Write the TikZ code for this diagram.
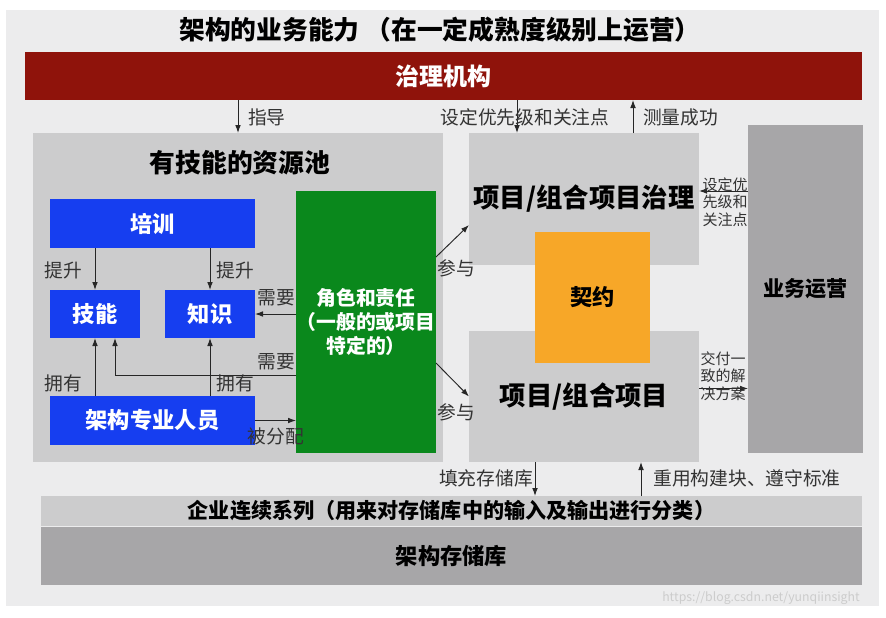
\documentclass[tikz,border=0pt]{standalone}
\usepackage{fontspec}
\setmainfont{Noto Sans CJK SC}
\usepackage{xcolor}
\usepackage{tikz}
\usetikzlibrary{arrows.meta}

\definecolor{panelgray}{RGB}{236,236,237}
\definecolor{boxgray}{RGB}{204,204,205}
\definecolor{darkgray}{RGB}{167,166,168}
\definecolor{govred}{RGB}{143,19,11}
\definecolor{skillblue}{RGB}{22,62,240}
\definecolor{rolegreen}{RGB}{10,136,28}
\definecolor{dealorange}{RGB}{247,167,40}

\tikzset{wh/.style 2 args={minimum width=#1*0.3mm, minimum height=#2*0.3mm}}

\begin{document}
\begin{tikzpicture}[x=0.3mm, y=-0.3mm,
	box/.style={inner sep=0pt, outer sep=0pt, align=center},
	bluebox/.style={box, fill=skillblue, text=white, font=\bfseries\fontsize{19}{22}\selectfont},
	lbl/.style={inner sep=0pt, text=black!80, font=\fontsize{16}{18}\selectfont},
	sidelbl/.style={inner sep=0pt, align=left, text=black!80, font=\fontsize{12.8}{15}\selectfont},
	arr/.style={-{Latex[length=2.4mm, width=1.7mm]}, line width=0.8pt, black!85}]
	% Canvas and frames:
	\useasboundingbox (0,0) rectangle (886,617);
	\node[box, fill=panelgray, wh={873}{596}](bg) at (442.5,308){};
	\node[box, font=\bfseries\fontsize{22}{26}\selectfont](title) at (440,30){架构的业务能力\ （在一定成熟度级别上运营）};
	\node[box, fill=govred, text=white, font=\bfseries\fontsize{20.5}{24}\selectfont, wh={837}{48}](gov) at (443.5,76){治理机构};
	\node[box, fill=boxgray, wh={410}{329}](pool) at (238,297.5){};
	\node[box, font=\bfseries\fontsize{22}{26}\selectfont](pooltitle) at (240,163){有技能的资源池};
	\node[bluebox, wh={205}{49}](train) at (152.5,223.5){培训};
	\node[bluebox, wh={90}{48}](skill) at (95,314){技能};
	\node[bluebox, wh={90}{48}](know) at (210,314){知识};
	\node[bluebox, wh={205}{49}](arch) at (152.5,420.5){架构专业人员};
	\node[box, fill=rolegreen, text=white, font=\bfseries\fontsize{16.9}{20.5}\selectfont, wh={140}{262}](role) at (366,322){角色和责任\\（一般的或项目\\特定的）};
	\node[box, fill=boxgray, font=\bfseries\fontsize{22.5}{26}\selectfont, wh={230}{132}](pgov) at (584,199){项目/组合项目治理};
	\node[box, fill=boxgray, font=\bfseries\fontsize{22.5}{26}\selectfont, wh={230}{131}](proj) at (584,396.5){项目/组合项目};
	\node[box, fill=dealorange, font=\bfseries\fontsize{19}{22}\selectfont, wh={115}{131}](deal) at (592.5,297.5){契约};
	\node[box, fill=darkgray, font=\bfseries\fontsize{18}{21}\selectfont, wh={115}{328}](ops) at (805.5,289){业务运营};
	\node[box, fill=boxgray, font=\bfseries\fontsize{18}{21}\selectfont, wh={821}{30}](cont) at (451.5,511){企业连续系列（用来对存储库中的输入及输出进行分类）};
	\node[box, fill=darkgray, font=\bfseries\fontsize{19}{22}\selectfont, wh={821}{58}](repo) at (451.5,556){架构存储库};

	% Arrows:
	\draw[arr] (gov.south -| pool.north) -- (pool.north);
	\draw[arr] ([xshift=-20.1mm]gov.south -| pgov.north) -- ([xshift=-20.1mm]pgov.north);
	\draw[arr] ([xshift=14.7mm]pgov.north) -- ([xshift=14.7mm]gov.south -| pgov.north);
	\draw[arr] (train.south -| skill.north) -- (skill.north);
	\draw[arr] (train.south -| know.north) -- (know.north);
	\draw[arr] (arch.north -| skill.south) -- (skill.south);
	\draw[arr] (arch.north -| know.south) -- (know.south);
	\draw[arr] (role.west |- know.east) -- (know.east);
	\draw[arr] ([yshift=-15.9mm]role.west) -| ([xshift=6mm]skill.south);
	\draw[arr] (arch.east) -- (role.west |- arch.east);
	\draw[arr] ([yshift=19.5mm]role.east) -- ([yshift=12mm]pgov.south west);
	\draw[arr] ([yshift=-12.3mm]role.east) -- (proj.west);
	\draw[arr] ([yshift=2.4mm]ops.west |- pgov.east) -- ([yshift=2.4mm]pgov.east);
	\draw[arr] ([yshift=2.4mm]proj.east) -- ([yshift=2.4mm]ops.west |- proj.east);
	\draw[arr] ([xshift=-14.7mm]proj.south) -- ([xshift=-14.7mm]cont.north -| proj.south);
	\draw[arr] ([xshift=17.1mm]cont.north -| proj.south) -- ([xshift=17.1mm]proj.south);

	% Labels:
	\node[lbl, anchor=west](lguide) at (248,117){指导};
	\node[lbl](lprio) at (525,117){设定优先级和关注点};
	\node[lbl, anchor=west](lmeasure) at (643,117){测量成功};
	\node[lbl](lup1) at (63,270){提升};
	\node[lbl](lup2) at (235,270){提升};
	\node[lbl](lneed1) at (276,298){需要};
	\node[lbl](lneed2) at (276,362){需要};
	\node[lbl](lown1) at (63,383){拥有};
	\node[lbl](lown2) at (235,383){拥有};
	\node[lbl](lassign) at (276,436){被分配};
	\node[lbl](ljoin1) at (456,268){参与};
	\node[lbl](ljoin2) at (456,412){参与};
	\node[sidelbl](lset) at (725,202){设定优\\先级和\\关注点};
	\node[sidelbl](ldeliver) at (723,376){交付一\\致的解\\决方案};
	\node[lbl](lfill) at (486,478){填充存储库};
	\node[lbl](lreuse) at (747,478){重用构建块、遵守标准};
	\node[inner sep=0pt, text=gray!40, font=\fontsize{10.5}{12}\selectfont](mark) at (761,598){https://blog.csdn.net/yunqiinsight};
\end{tikzpicture}
\end{document}
